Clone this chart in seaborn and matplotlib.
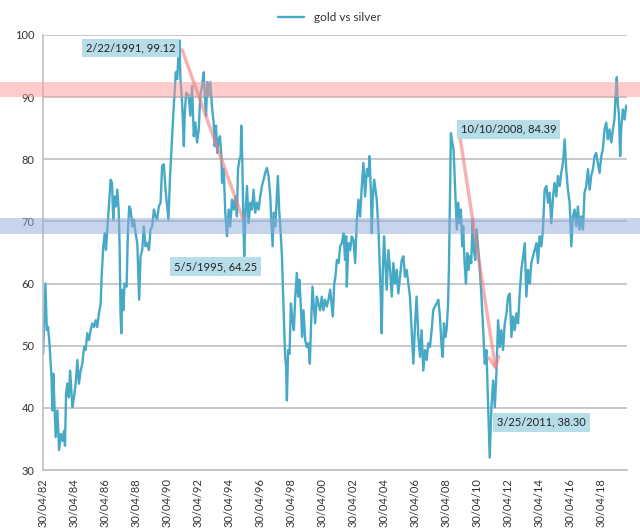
import numpy as np
import pandas as pd
import matplotlib.pyplot as plt
import seaborn as sns

# gold / silver ratio (x in decimal years)
years = [
    1982.34, 1982.49, 1982.58, 1982.66, 1982.75, 1982.88, 1982.94, 1983.00, 1983.09, 1983.15,
    1983.26, 1983.37, 1983.48, 1983.58, 1983.69, 1983.75, 1983.82, 1983.90, 1984.00, 1984.08,
    1984.16, 1984.23, 1984.33, 1984.44, 1984.55, 1984.65, 1984.76, 1984.87, 1984.98, 1985.08,
    1985.19, 1985.30, 1985.40, 1985.51, 1985.62, 1985.73, 1985.83, 1985.94, 1986.05, 1986.11,
    1986.22, 1986.31, 1986.39, 1986.48, 1986.58, 1986.69, 1986.78, 1986.86, 1986.95, 1987.03,
    1987.12, 1987.21, 1987.27, 1987.33, 1987.38, 1987.44, 1987.51, 1987.59, 1987.72, 1987.81,
    1987.89, 1987.98, 1988.09, 1988.19, 1988.30, 1988.41, 1988.53, 1988.62, 1988.73, 1988.83,
    1988.94, 1989.05, 1989.16, 1989.26, 1989.37, 1989.48, 1989.59, 1989.69, 1989.80, 1989.91,
    1990.01, 1990.12, 1990.23, 1990.34, 1990.42, 1990.51, 1990.59, 1990.68, 1990.76, 1990.83,
    1990.89, 1990.98, 1991.04, 1991.13, 1991.19, 1991.30, 1991.41, 1991.47, 1991.56, 1991.72,
    1991.83, 1991.94, 1992.05, 1992.15, 1992.26, 1992.37, 1992.47, 1992.58, 1992.69, 1992.75,
    1992.84, 1992.92, 1993.01, 1993.12, 1993.22, 1993.33, 1993.40, 1993.48, 1993.57, 1993.65,
    1993.74, 1993.83, 1993.87, 1993.98, 1994.08, 1994.19, 1994.30, 1994.40, 1994.51, 1994.62,
    1994.73, 1994.83, 1994.90, 1995.00, 1995.07, 1995.11, 1995.18, 1995.24, 1995.30, 1995.39,
    1995.48, 1995.58, 1995.69, 1995.80, 1995.90, 1996.01, 1996.12, 1996.23, 1996.33, 1996.44,
    1996.55, 1996.65, 1996.76, 1996.87, 1996.98, 1997.04, 1997.13, 1997.21, 1997.30, 1997.40,
    1997.47, 1997.55, 1997.64, 1997.73, 1997.81, 1997.88, 1997.94, 1998.00, 1998.05, 1998.13,
    1998.22, 1998.31, 1998.41, 1998.50, 1998.59, 1998.69, 1998.78, 1998.86, 1998.95, 1999.03,
    1999.12, 1999.23, 1999.33, 1999.44, 1999.53, 1999.61, 1999.70, 1999.78, 1999.87, 1999.98,
    2000.08, 2000.19, 2000.30, 2000.40, 2000.51, 2000.62, 2000.73, 2000.84, 2000.95, 2001.01,
    2001.10, 2001.18, 2001.27, 2001.38, 2001.48, 2001.59, 2001.70, 2001.80, 2001.87, 2001.91,
    2002.02, 2002.13, 2002.23, 2002.34, 2002.45, 2002.55, 2002.66, 2002.77, 2002.88, 2002.98,
    2003.09, 2003.20, 2003.31, 2003.37, 2003.46, 2003.52, 2003.58, 2003.67, 2003.76, 2003.84,
    2003.95, 2004.01, 2004.10, 2004.16, 2004.23, 2004.31, 2004.40, 2004.48, 2004.59, 2004.70,
    2004.81, 2004.91, 2005.02, 2005.13, 2005.23, 2005.34, 2005.45, 2005.56, 2005.66, 2005.77,
    2005.88, 2005.98, 2006.09, 2006.20, 2006.31, 2006.41, 2006.52, 2006.63, 2006.73, 2006.84,
    2006.95, 2007.06, 2007.16, 2007.27, 2007.38, 2007.48, 2007.59, 2007.70, 2007.81, 2007.91,
    2008.02, 2008.09, 2008.17, 2008.26, 2008.34, 2008.43, 2008.49, 2008.56, 2008.62, 2008.71,
    2008.79, 2008.88, 2008.94, 2009.00, 2009.09, 2009.18, 2009.26, 2009.35, 2009.41, 2009.50,
    2009.59, 2009.67, 2009.76, 2009.84, 2009.93, 2010.02, 2010.10, 2010.19, 2010.27, 2010.37,
    2010.48, 2010.59, 2010.70, 2010.80, 2010.91, 2011.02, 2011.12, 2011.23, 2011.34, 2011.45,
    2011.55, 2011.66, 2011.77, 2011.87, 2011.98, 2012.09, 2012.20, 2012.30, 2012.41, 2012.52,
    2012.63, 2012.73, 2012.84, 2012.95, 2013.05, 2013.16, 2013.27, 2013.38, 2013.48, 2013.59,
    2013.70, 2013.80, 2013.91, 2014.02, 2014.13, 2014.23, 2014.34, 2014.45, 2014.55, 2014.66,
    2014.77, 2014.88, 2014.98, 2015.09, 2015.20, 2015.30, 2015.41, 2015.52, 2015.63, 2015.73,
    2015.84, 2015.95, 2016.05, 2016.16, 2016.27, 2016.38, 2016.48, 2016.59, 2016.70, 2016.80,
    2016.91, 2017.02, 2017.13, 2017.23, 2017.34, 2017.45, 2017.56, 2017.66, 2017.77, 2017.88,
    2017.98, 2018.09, 2018.20, 2018.31, 2018.41, 2018.52, 2018.63, 2018.73, 2018.84, 2018.95,
    2019.06, 2019.16, 2019.23, 2019.31, 2019.38, 2019.44, 2019.53, 2019.59, 2019.70, 2019.81,
    2019.91, 2019.98,
]
ratio = [
    48.7, 60.0, 52.5, 53.0, 50.4, 45.0, 39.6, 45.5, 39.6, 35.3,
    39.6, 33.2, 35.8, 34.7, 36.3, 33.9, 42.3, 43.9, 41.7, 46.0,
    42.8, 40.1, 41.7, 43.9, 47.7, 43.9, 46.0, 47.1, 49.8, 49.3,
    52.0, 50.9, 52.5, 53.6, 53.0, 54.1, 53.0, 55.2, 56.8, 61.1,
    66.0, 68.1, 65.4, 68.7, 72.4, 76.7, 76.2, 70.3, 74.0, 72.4,
    75.1, 71.9, 66.0, 55.2, 52.0, 59.0, 55.7, 60.0, 59.5, 68.7,
    72.4, 71.9, 69.2, 70.3, 68.1, 66.5, 57.4, 64.4, 65.4, 69.2,
    66.0, 66.5, 65.4, 68.7, 69.2, 71.9, 70.8, 70.3, 72.4, 73.0,
    78.9, 79.2, 75.1, 72.4, 70.3, 76.7, 80.5, 84.8, 88.6, 91.3,
    94.0, 92.9, 95.6, 99.1, 92.9, 89.1, 82.1, 87.5, 90.7, 90.2,
    87.0, 91.8, 83.7, 85.9, 82.7, 84.8, 90.2, 91.8, 94.0, 90.7,
    87.0, 92.4, 90.2, 92.4, 88.6, 85.9, 82.1, 85.4, 81.0, 83.2,
    83.7, 80.5, 76.2, 78.4, 71.4, 67.6, 71.9, 69.2, 73.5, 71.9,
    74.0, 70.8, 78.4, 80.0, 80.5, 85.4, 79.4, 70.8, 64.4, 71.9,
    75.7, 69.7, 73.0, 71.9, 75.1, 71.4, 73.0, 71.9, 74.0, 75.7,
    76.7, 77.8, 78.6, 77.3, 74.0, 70.3, 66.0, 71.4, 69.2, 74.0,
    77.3, 71.9, 68.7, 64.4, 57.9, 52.5, 48.2, 46.6, 41.2, 49.3,
    48.7, 56.8, 54.1, 52.5, 57.9, 61.7, 57.9, 60.6, 56.3, 51.4,
    55.7, 50.9, 49.8, 50.4, 47.1, 53.6, 59.5, 56.8, 53.6, 57.9,
    56.8, 55.7, 57.9, 55.7, 57.4, 56.3, 57.4, 59.0, 56.3, 54.7,
    60.0, 61.1, 63.8, 63.3, 66.0, 66.5, 68.1, 63.8, 67.6, 59.5,
    66.5, 65.4, 67.6, 67.0, 63.3, 69.7, 73.5, 70.8, 75.7, 79.4,
    74.0, 78.4, 77.3, 80.5, 75.1, 68.1, 73.5, 76.7, 75.1, 73.5,
    68.7, 64.4, 57.9, 52.0, 61.7, 67.6, 63.3, 59.0, 65.4, 62.2,
    57.9, 63.3, 60.0, 62.2, 58.4, 61.1, 63.8, 64.4, 61.1, 62.2,
    60.0, 57.9, 52.5, 47.1, 53.6, 57.9, 51.4, 48.2, 52.5, 46.0,
    49.3, 47.7, 50.4, 49.8, 52.5, 55.7, 56.3, 56.8, 57.4, 54.7,
    49.8, 48.2, 53.6, 51.4, 52.5, 56.3, 62.2, 74.0, 84.2, 82.7,
    81.6, 76.2, 72.4, 68.7, 73.0, 69.7, 71.9, 66.0, 69.2, 63.3,
    60.0, 64.9, 62.2, 64.4, 63.3, 70.3, 65.4, 63.8, 68.7, 66.0,
    62.2, 57.9, 52.5, 47.1, 49.3, 40.1, 32.0, 40.1, 44.4, 40.1,
    45.5, 54.1, 49.8, 52.5, 49.3, 53.6, 55.2, 57.9, 58.4, 51.4,
    54.7, 52.5, 55.2, 53.6, 58.4, 62.2, 64.4, 66.5, 57.9, 62.2,
    60.0, 63.3, 64.4, 65.4, 66.5, 63.3, 67.6, 66.0, 68.7, 75.1,
    75.7, 73.0, 74.6, 69.7, 74.0, 76.2, 74.0, 77.3, 75.7, 77.8,
    79.4, 83.2, 78.4, 75.1, 73.0, 66.0, 70.8, 71.9, 69.2, 72.4,
    68.7, 70.8, 68.7, 74.6, 75.7, 78.4, 75.1, 77.3, 78.4, 80.5,
    81.0, 79.4, 77.8, 80.5, 81.6, 84.8, 85.9, 83.2, 84.8, 82.7,
    84.8, 86.4, 90.2, 93.2, 88.6, 87.5, 80.5, 84.8, 88.0, 86.4,
    88.6, 88.0,
]

tick_years = [1982, 1984, 1986, 1988, 1990, 1992, 1994, 1996, 1998,
              2000, 2002, 2004, 2006, 2008, 2010, 2012, 2014, 2016, 2018]
tick_labels = ['30/04/82', '30/04/84', '30/04/86', '30/04/88', '30/04/90',
               '30/04/92', '30/04/94', '30/04/96', '30/04/98', '30/04/00',
               '30/04/02', '30/04/04', '30/04/06', '30/04/08', '30/04/10',
               '30/04/12', '30/04/14', '30/04/16', '30/04/18']
notes = ['2/22/1991, 99.12', '5/5/1995, 64.25', '10/10/2008, 84.39', '3/25/2011, 38.30']

sns.set_style('white')
plt.rcParams['font.family'] = ['Lato', 'DejaVu Sans']

df = pd.DataFrame({'year': years, 'ratio': ratio})

fig = plt.figure(figsize=(6.4, 5.29), dpi=100)
ax = fig.add_axes([0.067, 0.1115, 0.913, 0.8225])
sns.lineplot(data=df, x='year', y='ratio', color='#46a9c6', linewidth=1.7,
             label='gold vs silver', estimator=None, ax=ax)

ax.set_xlim(1982.33, 2019.98)
ax.set_ylim(30, 100)
ax.set_yticks(range(30, 101, 10))
ax.set_xticks([y + 119 / 365 for y in tick_years])
ax.set_xticklabels(tick_labels, rotation=90)
ax.set_xlabel('')
ax.set_ylabel('')
ax.yaxis.grid(True, color='#bfbfbf', linewidth=1.2)
ax.set_axisbelow(True)
for s in ['top', 'right']:
    ax.spines[s].set_visible(False)
for s in ['left', 'bottom']:
    ax.spines[s].set_color('#bfbfbf')
    ax.spines[s].set_linewidth(1.2)
ax.tick_params(axis='both', colors='#bfbfbf', labelcolor='#333333', labelsize=8, length=4, width=1.2, pad=2)

# support / resistance bands across the whole width
ax.axhspan(90, 92.5, xmin=-0.075, xmax=1.025, color='#ff9999', alpha=0.5, lw=0, clip_on=False, zorder=3)
ax.axhspan(68, 70.5, xmin=-0.075, xmax=1.025, color='#8eaadb', alpha=0.5, lw=0, clip_on=False, zorder=3)

# trend arrows
ax.plot([1991.3, 1995.2], [97.6, 70.5], color='#f08080', alpha=0.6, lw=2.5, zorder=4)
ax.annotate('', xy=(2011.55, 45.5), xytext=(2009.09, 85.4),
            arrowprops=dict(arrowstyle='->', color='#f08080', alpha=0.6, lw=2.5, mutation_scale=18), zorder=4)

box = dict(boxstyle='square,pad=0.35', facecolor='#b7dde8', edgecolor='none')
ax.text(1987.98, 97.9, notes[0], ha='center', va='center', fontsize=8, color='#222222', bbox=box, zorder=5)
ax.text(1993.44, 62.75, notes[1], ha='center', va='center', fontsize=8, color='#222222', bbox=box, zorder=5)
ax.text(2012.32, 84.8, notes[2], ha='center', va='center', fontsize=8, color='#222222', bbox=box, zorder=5)
ax.text(2014.47, 37.7, notes[3], ha='center', va='center', fontsize=8, color='#222222', bbox=box, zorder=5)

ax.legend(loc='center', bbox_to_anchor=(0.515, 0.966), bbox_transform=fig.transFigure,
          frameon=False, fontsize=8.5, handlelength=2.2, labelcolor='#333333')

fig.savefig('out.png', dpi=100)
